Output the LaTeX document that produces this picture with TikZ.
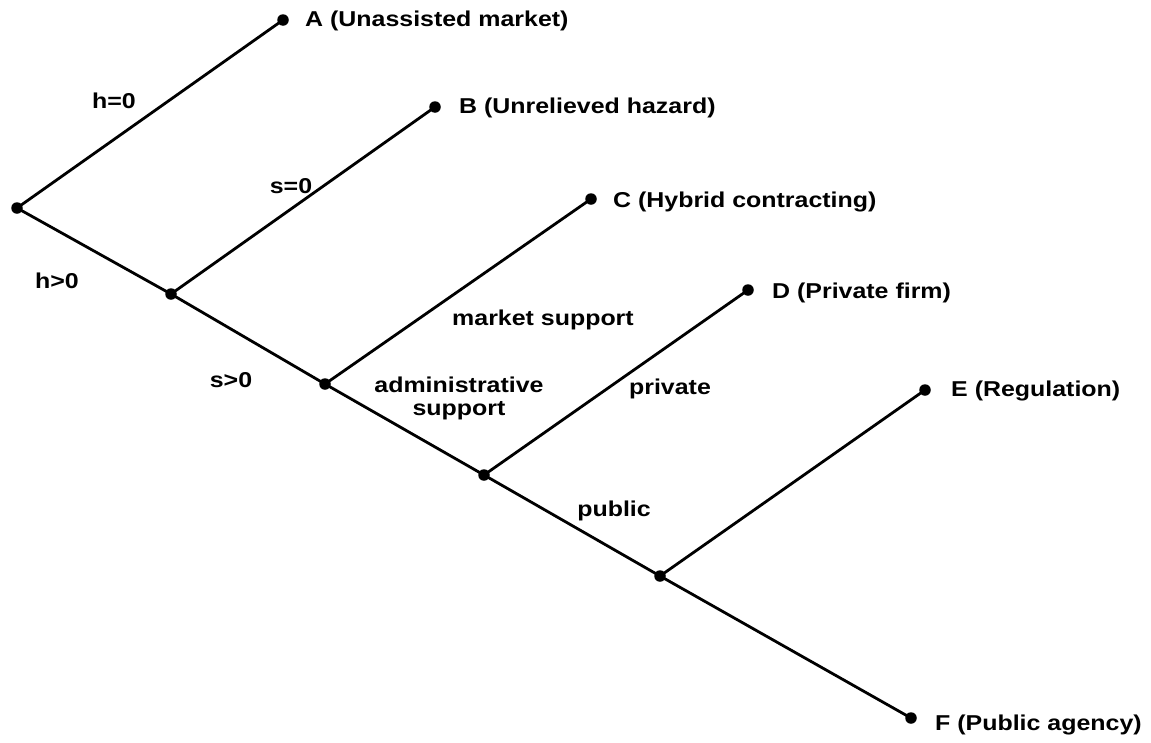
\documentclass[tikz,border=0pt]{standalone}
\usepackage{fontspec}
\setmainfont{Liberation Sans}[FakeStretch=1.16]
\begin{document}
\begin{tikzpicture}[x=1pt,y=-1pt,
  dot/.style={circle,fill=black,inner sep=0pt,minimum size=11.5pt},
  branch/.style={line width=2.8pt},
  leaf/.style={anchor=west,inner sep=0pt,font=\fontsize{21.5}{23}\selectfont\bfseries},
  elabel/.style={inner sep=0pt,font=\fontsize{21.5}{23}\selectfont\bfseries,align=center}]
\useasboundingbox (0,0) rectangle (1151,742);
\node[dot] (r) at (17,208) {};
\node[dot] (a) at (283,20) {};
\node[dot] (n2) at (171,294) {};
\node[dot] (b) at (435,107) {};
\node[dot] (n3) at (325,384) {};
\node[dot] (c) at (591,199) {};
\node[dot] (n4) at (484,475) {};
\node[dot] (d) at (748,290) {};
\node[dot] (n5) at (660,576) {};
\node[dot] (e) at (925,390) {};
\node[dot] (f) at (911,718) {};
\draw[branch] (r.center) -- (a.center);
\draw[branch] (r.center) -- (n2.center);
\draw[branch] (n2.center) -- (b.center);
\draw[branch] (n2.center) -- (n3.center);
\draw[branch] (n3.center) -- (c.center);
\draw[branch] (n3.center) -- (n4.center);
\draw[branch] (n4.center) -- (d.center);
\draw[branch] (n4.center) -- (n5.center);
\draw[branch] (n5.center) -- (e.center);
\draw[branch] (n5.center) -- (f.center);
\node[leaf] (ta) at (305,21) {A (Unassisted market)};
\node[leaf] (tb) at (459,108) {B (Unrelieved hazard)};
\node[leaf] (tc) at (613,202) {C (Hybrid contracting)};
\node[leaf] (td) at (772,293) {D (Private firm)};
\node[leaf] (te) at (951,391) {E (Regulation)};
\node[leaf] (tf) at (935,725) {F (Public agency)};
\node[elabel] (l1) at (114,101) {h=0};
\node[elabel] (l2) at (291,186) {s=0};
\node[elabel] (l3) at (57,281) {h>0};
\node[elabel] (l4) at (231,380) {s>0};
\node[elabel] (l5) at (543,320) {market support};
\node[elabel] (l6) at (459,398) {administrative\\support};
\node[elabel] (l7) at (670,389) {private};
\node[elabel] (l8) at (614,511) {public};
\end{tikzpicture}
\end{document}
